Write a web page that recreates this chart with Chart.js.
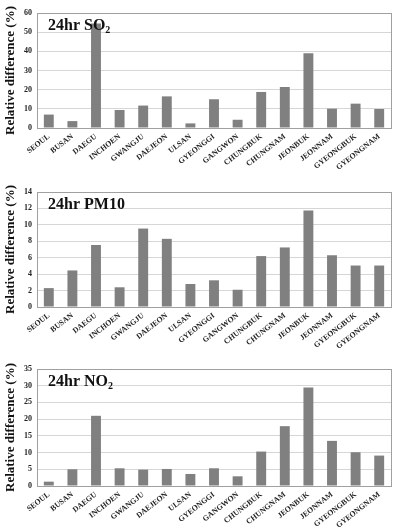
<!DOCTYPE html>
<html>
<head>
<meta charset="utf-8">
<script src="https://cdn.jsdelivr.net/npm/chart.js@4"></script>
<style>
	html, body { margin: 0; padding: 0; background: #fff; }
	.panel { position: absolute; left: 0; width: 399px; }
</style>
</head>
<body>
<div class="panel" style="top:0;height:176px"><canvas id="chart-so2"></canvas></div>
<div class="panel" style="top:172px;height:183px"><canvas id="chart-pm10"></canvas></div>
<div class="panel" style="top:349px;height:179px"><canvas id="chart-no2"></canvas></div>
<script>
const categories = ['SEOUL', 'BUSAN', 'DAEGU', 'INCHOEN', 'GWANGJU', 'DAEJEON', 'ULSAN', 'GYEONGGI', 'GANGWON', 'CHUNGBUK', 'CHUNGNAM', 'JEONBUK', 'JEONNAM', 'GYEONGBUK', 'GYEONGNAM'];
const so2Values = [7.0, 3.6, 54.5, 9.4, 11.7, 16.5, 2.4, 15.0, 4.3, 18.8, 21.4, 39.0, 10.1, 12.7, 9.9];
const pm10Values = [2.3, 4.45, 7.55, 2.4, 9.55, 8.3, 2.8, 3.25, 2.1, 6.2, 7.25, 11.75, 6.3, 5.05, 5.05];
const no2Values = [1.3, 5.0, 21.0, 5.3, 4.9, 5.1, 3.6, 5.3, 2.9, 10.3, 17.9, 29.5, 13.5, 10.1, 9.1];

const serif = '"Liberation Serif", "Times New Roman", serif';

// gray frame round the plot area + the label in its top-left corner
const panelDeco = {
	id: 'panelDeco',
	afterDraw(chart, args, opts) {
		const { ctx, chartArea: a } = chart;
		ctx.save();
		ctx.strokeStyle = '#a0a0a0';
		ctx.lineWidth = 1;
		ctx.strokeRect(Math.round(a.left) + 0.5, Math.round(a.top) + 0.5, Math.round(a.right - a.left), Math.round(a.bottom - a.top));
		ctx.fillStyle = '#111';
		ctx.textBaseline = 'alphabetic';
		ctx.font = 'bold 16px ' + serif;
		let x = a.left + 11, y = a.top + 17;
		ctx.fillText(opts.text, x, y);
		if (opts.sub) {
			x += ctx.measureText(opts.text).width;
			ctx.font = 'bold 10px ' + serif;
			ctx.fillText(opts.sub, x, y + 3);
		}
		ctx.restore();
	}
};

const mk = (id, values, max, step, text, sub, padTop, padBottom) => {
	new Chart(document.getElementById(id), {
		type: 'bar',
		data: {
			labels: categories,
			datasets: [{ data: values, backgroundColor: '#808080', categoryPercentage: 1, barPercentage: 0.42 }]
		},
		plugins: [panelDeco],
		options: {
			responsive: true,
			maintainAspectRatio: false,
			animation: false,
			layout: { padding: { top: padTop, right: 8, left: 0, bottom: padBottom } },
			plugins: {
				legend: { display: false },
				tooltip: { enabled: false },
				panelDeco: { text: text, sub: sub }
			},
			scales: {
				x: {
					afterFit: (s) => { s.height = 42; },
					grid: { display: false, drawTicks: false },
					border: { color: '#a0a0a0' },
					ticks: {
						color: '#222', minRotation: 38, maxRotation: 38, autoSkip: false, padding: 4,
						font: { family: serif, weight: 'bold', size: 7.8 }
					}
				},
				y: {
					min: 0, max: max,
					afterFit: (s) => { s.width = 37; },
					grid: { color: '#d6d6d6', drawTicks: false },
					border: { color: '#a0a0a0' },
					ticks: {
						stepSize: step, color: '#222', padding: 5,
						font: { family: serif, weight: 'bold', size: 8 }
					},
					title: {
						display: true, text: 'Relative difference (%)', color: '#111', padding: { top: 3, bottom: 0 },
						font: { family: serif, weight: 'bold', size: 13 }
					}
				}
			}
		}
	});
};

mk('chart-so2', so2Values, 60, 10, '24hr SO', '2', 13, 6);
mk('chart-pm10', pm10Values, 14, 2, '24hr PM10', '', 20, 6);
mk('chart-no2', no2Values, 35, 5, '24hr NO', '2', 20, 0);
</script>
</body>
</html>
